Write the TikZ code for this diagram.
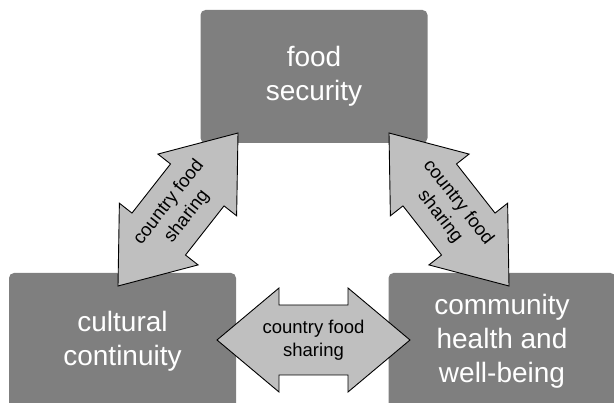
\documentclass[tikz,border=0pt]{standalone}
\usepackage{fontspec}
\setmainfont{Liberation Sans}
\usetikzlibrary{calc}
\definecolor{boxgray}{HTML}{7F7F7F}
\definecolor{arrgray}{HTML}{BFBFBF}
\tikzset{
  box/.style={fill=boxgray, rounded corners=5pt, text=white,
    font=\fontsize{28}{34}\selectfont, align=center, inner sep=0pt,
    minimum width=227pt},
  dblarr/.style={fill=arrgray, draw=black, line width=0.9pt, line join=miter},
  arrlabel/.style={font=\fontsize{18.5}{23}\selectfont, align=center, inner sep=0pt}
}
% #1 tip A, #2 tip B, #3 head length, #4 head half-width, #5 shaft half-width
\newcommand\dblarrow[5]{%
  \draw[dblarr] (#1)
    -- ($(#1)!#3!(#2)!#4!90:(#2)$)
    -- ($(#1)!#3!(#2)!#5!90:(#2)$)
    -- ($(#2)!#3!(#1)!#5!-90:(#1)$)
    -- ($(#2)!#3!(#1)!#4!-90:(#1)$)
    -- (#2)
    -- ($(#2)!#3!(#1)!#4!90:(#1)$)
    -- ($(#2)!#3!(#1)!#5!90:(#1)$)
    -- ($(#1)!#3!(#2)!#5!-90:(#2)$)
    -- ($(#1)!#3!(#2)!#4!-90:(#2)$)
    -- cycle;
}
\begin{document}
\begin{tikzpicture}[x=1pt, y=-1pt]
  \useasboundingbox (0,0) rectangle (614,403);
  \clip (0,0) rectangle (614,403);
  % boxes
  \node[box, minimum height=133pt] (food) at (314,76.5) {food\\security};
  \node[box, minimum height=136pt] (cult) at (122.5,341) {cultural\\continuity};
  \node[box, minimum height=136pt] (comm) at (502,341) {community\\health and\\well-being};
  % arrow tips
  \coordinate (l1) at (118,286);
  \coordinate (l2) at (238,133);
  \coordinate (r1) at (389,133);
  \coordinate (r2) at (509,286);
  \coordinate (h1) at (217,340);
  \coordinate (h2) at (410,340);
  % arrows
  \dblarrow{l1}{l2}{66pt}{50pt}{34pt}
  \dblarrow{r1}{r2}{66pt}{50pt}{34pt}
  \dblarrow{h1}{h2}{62pt}{52pt}{35pt}
  % labels
  \node[arrlabel, rotate=51.9] (tl) at ($(l1)!0.5!(l2)$) {country food\\sharing};
  \node[arrlabel, rotate=-51.9] (tr) at ($(r1)!0.5!(r2)$) {country food\\sharing};
  \node[arrlabel] (th) at ($(h1)!0.5!(h2)$) {country food\\sharing};
\end{tikzpicture}
\end{document}
